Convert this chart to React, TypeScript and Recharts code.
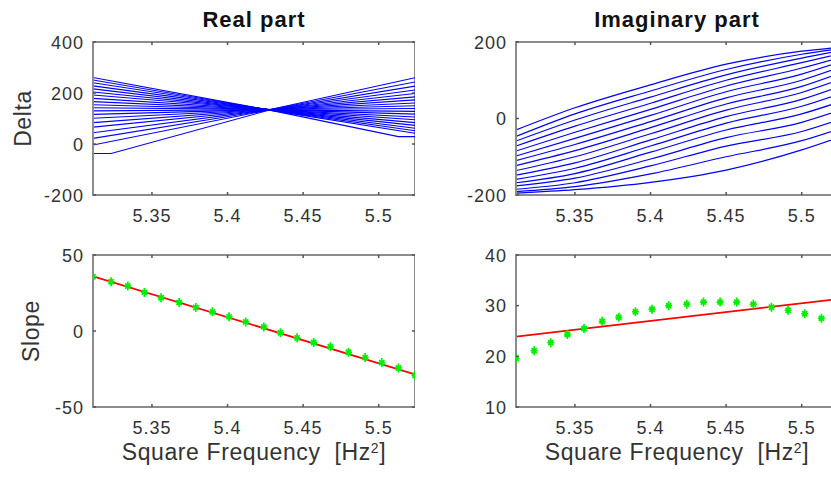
import React from 'react';
import { ComposedChart, Line, XAxis, YAxis, ReferenceArea, Label } from 'recharts';

const FONT = '"Liberation Sans", Arial, Helvetica, sans-serif';
const TEXT = '#333333';
const FRAME = '#8c8c8c';
const TICK = '#555555';
const BLUE = '#0000ff';
const RED = '#ff0000';
const GREEN = '#00ee00';

// ---------- data ----------
const xDomain: [number, number] = [5.311, 5.524];
const xTicks = [5.35, 5.4, 5.45, 5.5];
const xTickLabels = ['5.35', '5.4', '5.45', '5.5'];

const freq = [5.311, 5.323, 5.334, 5.345, 5.356, 5.368, 5.379, 5.39, 5.401, 5.412,
  5.424, 5.435, 5.446, 5.457, 5.468, 5.48, 5.491, 5.502, 5.513, 5.524];

const realSlope = [35.7, 32.4, 29.6, 25.4, 21.9, 18.8, 15.5, 12.6, 9.3, 6.0,
  2.7, -1.2, -4.5, -7.6, -10.4, -14.0, -17.5, -20.8, -24.3, -29.1];
const realFitX = [5.311, 5.524];
const realFit = [36.0, -28.5];

const imagSlope = [19.6, 21.1, 22.7, 24.3, 25.5, 26.9, 27.7, 28.8, 29.3, 30.0,
  30.3, 30.7, 30.7, 30.7, 30.3, 29.7, 29.1, 28.4, 27.5, 26.4];
const imagFitX = [5.311, 5.524];
const imagFit = [23.9, 31.3];

// Real part Delta: vertices of each line (null = no vertex there)
const realDeltaX = [5.311, 5.323, 5.432, 5.513, 5.524];
const realDeltaLines: (number | null)[][] = [
  [261, null, 128, 29, 29],
  [251, null, 129, null, 42],
  [240, null, 130, null, 52],
  [228, null, 131, null, 62],
  [216, null, 131, null, 73],
  [204, null, 132, null, 84],
  [192, null, 133, null, 95],
  [179, null, 133, null, 106],
  [166, null, 134, null, 117],
  [154, null, 134, null, 128],
  [142, null, 135, null, 139],
  [130, null, 135, null, 150],
  [116, null, 136, null, 161],
  [101, null, 136, null, 173],
  [84, null, 137, null, 185],
  [66, null, 137, null, 198],
  [44, null, 138, null, 212],
  [22, null, 138, null, 227],
  [-4, null, 139, null, 243],
  [-37, -37, 140, null, 260],
];

// Imaginary part Delta: curves sampled at these frequencies
const imagDeltaX = [5.311, 5.35, 5.4, 5.45, 5.5, 5.524];
const imagDeltaLines: number[][] = [
  [-30, 28, 88, 142, 176, 186],
  [-47, 12, 72, 128, 168, 182],
  [-59, -4, 56, 114, 158, 176],
  [-72, -20, 40, 100, 146, 168],
  [-85, -36, 24, 85, 132, 158],
  [-98, -52, 8, 70, 116, 146],
  [-110, -68, -8, 54, 100, 132],
  [-123, -84, -24, 38, 84, 117],
  [-136, -100, -40, 22, 68, 100],
  [-148, -116, -56, 5, 50, 82],
  [-159, -130, -72, -12, 32, 63],
  [-168, -144, -88, -30, 12, 42],
  [-176, -156, -106, -50, -10, 20],
  [-185, -168, -124, -72, -34, -4],
  [-191, -178, -145, -100, -58, -28],
  [-195, -186, -167, -135, -82, -50],
];

// ---------- tables built from arrays ----------
const toPts = (xs: number[], ys: (number | null)[]) => xs.map((x, i) => ({ x, y: ys[i] }));

// ---------- layout ----------
const PLOT_LEFT = 93;
const PLOT_TOP = 42;
const PLOT_W = 322;

type PanelProps = {
  left: number;
  top: number;
  plotH: number;
  bottomSpace: number;
  yDomain: [number, number];
  yTicks: number[];
  title?: string;
  yLabel?: string;
  yLabelX?: number;
  xLabel?: boolean;
  children: React.ReactNode;
};

function Panel(p: PanelProps) {
  const W = PLOT_LEFT + PLOT_W;
  const H = PLOT_TOP + p.plotH + p.bottomSpace;
  const plotBottom = PLOT_TOP + p.plotH;
  const plotRight = PLOT_LEFT + PLOT_W;
  const midX = PLOT_LEFT + PLOT_W / 2;
  const midY = PLOT_TOP + p.plotH / 2;

  const xTick = (props: any) => {
    const { x, payload } = props;
    const i = xTicks.indexOf(payload.value);
    return (
      <g>
        <line x1={x} x2={x} y1={plotBottom} y2={plotBottom - 3} stroke={TICK} strokeWidth={1.5} />
        <line x1={x} x2={x} y1={PLOT_TOP} y2={PLOT_TOP + 3} stroke={TICK} strokeWidth={1.5} />
        <text x={x} y={plotBottom + 27} textAnchor="middle" fill={TEXT} fontSize={18}
          fontFamily={FONT} letterSpacing={1}>{i >= 0 ? xTickLabels[i] : String(payload.value)}</text>
      </g>
    );
  };
  const yTick = (props: any) => {
    const { y, payload } = props;
    return (
      <g>
        <line x1={PLOT_LEFT} x2={PLOT_LEFT + 3} y1={y} y2={y} stroke={TICK} strokeWidth={1.5} />
        <line x1={plotRight} x2={plotRight - 3} y1={y} y2={y} stroke={TICK} strokeWidth={1.5} />
        <text x={PLOT_LEFT - 9} y={y + 6.5} textAnchor="end" fill={TEXT} fontSize={18}
          fontFamily={FONT} letterSpacing={1}>{String(payload.value)}</text>
      </g>
    );
  };

  return (
    <div style={{ position: 'absolute', left: p.left, top: p.top }}>
      <ComposedChart width={W} height={H} margin={{ top: PLOT_TOP, right: 0, bottom: 0, left: 0 }}>
        <XAxis type="number" dataKey="x" domain={xDomain} ticks={xTicks} interval={0}
          allowDataOverflow height={p.bottomSpace} tick={xTick} tickLine={false}
          axisLine={{ stroke: FRAME, strokeWidth: 2 }}>
          {p.xLabel ? (
            <Label content={() => (
              <text x={midX} y={plotBottom + 53} textAnchor="middle" fill={TEXT} fontSize={23}
                fontFamily={FONT} letterSpacing={0.6}>
                <tspan>{'Square Frequency\u00A0 [Hz'}</tspan>
                <tspan dy={-7} fontSize={14}>2</tspan>
                <tspan dy={7}>]</tspan>
              </text>
            )} />
          ) : null}
        </XAxis>
        <YAxis type="number" domain={p.yDomain} ticks={p.yTicks} interval={0} allowDataOverflow
          width={PLOT_LEFT} tick={yTick} tickLine={false} axisLine={{ stroke: FRAME, strokeWidth: 2 }}>
          {p.title ? (
            <Label content={() => (
              <text x={midX} y={PLOT_TOP - 15} textAnchor="middle" fill="#111111" fontSize={22}
                fontWeight="bold" fontFamily={FONT} letterSpacing={1}>{p.title}</text>
            )} />
          ) : null}
          {p.yLabel ? (
            <Label content={() => (
              <text x={p.yLabelX} y={midY} textAnchor="middle" fill={TEXT} fontSize={23}
                fontFamily={FONT} letterSpacing={0.6}
                transform={`rotate(-90 ${p.yLabelX} ${midY})`}>{p.yLabel}</text>
            )} />
          ) : null}
        </YAxis>
        <ReferenceArea x1={xDomain[0]} x2={xDomain[1]} y1={p.yDomain[0]} y2={p.yDomain[1]}
          fill="none" stroke={FRAME} strokeWidth={2} ifOverflow="visible" />
        {p.children}
      </ComposedChart>
    </div>
  );
}

const Star = (props: any) => {
  const { cx, cy, index } = props;
  if (cx == null || cy == null) return <g key={`s${index}`} />;
  const d = `M${cx},${cy - 4.5}V${cy + 4.5}M${cx - 3.5},${cy}H${cx + 3.5}` +
    `M${cx - 2.6},${cy - 2.6}L${cx + 2.6},${cy + 2.6}M${cx - 2.6},${cy + 2.6}L${cx + 2.6},${cy - 2.6}`;
  return <path key={`s${index}`} d={d} stroke={GREEN} strokeWidth={1.7} fill="none" />;
};

export default function App() {
  return (
    <div style={{ position: 'absolute', left: 0, top: 0, width: 831, height: 480, overflow: 'hidden',
      background: '#ffffff', fontFamily: FONT }}>
      {/* Real part Delta */}
      <Panel left={0} top={0} plotH={153} bottomSpace={40} yDomain={[-200, 400]}
        yTicks={[-200, 0, 200, 400]} title="Real part" yLabel="Delta" yLabelX={31}>
        {realDeltaLines.map((ys, k) => (
          <Line key={`r${k}`} data={toPts(realDeltaX, ys)} dataKey="y" type="linear" stroke={BLUE}
            strokeWidth={1.1} dot={false} activeDot={false} connectNulls isAnimationActive={false} />
        ))}
      </Panel>
      {/* Imaginary part Delta */}
      <Panel left={423} top={0} plotH={153} bottomSpace={40} yDomain={[-200, 200]}
        yTicks={[-200, 0, 200]} title="Imaginary part">
        {imagDeltaLines.map((ys, k) => (
          <Line key={`i${k}`} data={toPts(imagDeltaX, ys)} dataKey="y" type="monotone" stroke={BLUE}
            strokeWidth={1.2} dot={false} activeDot={false} isAnimationActive={false} />
        ))}
      </Panel>
      {/* Real slope */}
      <Panel left={0} top={213} plotH={152} bottomSpace={70} yDomain={[-50, 50]}
        yTicks={[-50, 0, 50]} yLabel="Slope" yLabelX={39} xLabel>
        <Line data={toPts(freq, realSlope)} dataKey="y" stroke="none" dot={Star} activeDot={false}
          isAnimationActive={false} />
        <Line data={toPts(realFitX, realFit)} dataKey="y" type="linear" stroke={RED} strokeWidth={1.8}
          dot={false} activeDot={false} isAnimationActive={false} />
      </Panel>
      {/* Imaginary slope */}
      <Panel left={423} top={213} plotH={152} bottomSpace={70} yDomain={[10, 40]}
        yTicks={[10, 20, 30, 40]} xLabel>
        <Line data={toPts(freq, imagSlope)} dataKey="y" stroke="none" dot={Star} activeDot={false}
          isAnimationActive={false} />
        <Line data={toPts(imagFitX, imagFit)} dataKey="y" type="linear" stroke={RED} strokeWidth={1.8}
          dot={false} activeDot={false} isAnimationActive={false} />
      </Panel>
    </div>
  );
}
